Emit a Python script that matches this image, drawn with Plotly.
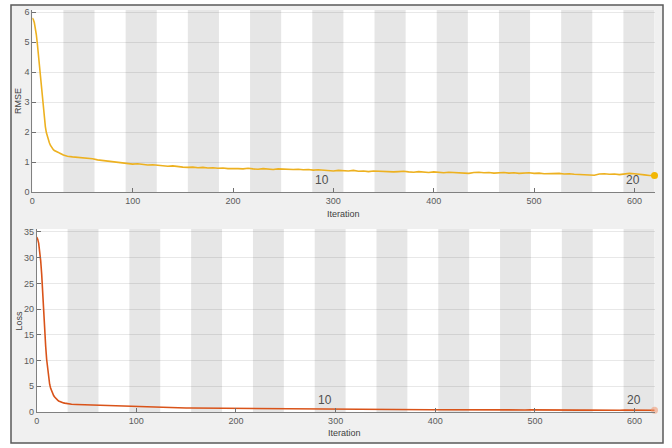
import plotly.graph_objects as go

# ---- data ----
iters = list(range(0, 36)) + list(range(40, 621, 5))

rmse = [5.80, 5.75, 5.65, 5.50, 5.25, 4.95, 4.60, 4.22, 3.85, 3.45,
        3.07, 2.72, 2.42, 2.18, 1.98, 1.84, 1.74, 1.64, 1.56, 1.50,
        1.45, 1.41, 1.38, 1.37, 1.34, 1.33, 1.32, 1.30, 1.29, 1.27,
        1.25, 1.23, 1.22, 1.21, 1.20, 1.19,
        1.17, 1.16, 1.14, 1.12, 1.11, 1.07, 1.05, 1.04, 1.01, 0.98,
        0.97, 0.95, 0.93, 0.94, 0.92, 0.90, 0.91, 0.89, 0.87, 0.86,
        0.87, 0.84, 0.83, 0.82, 0.83, 0.81, 0.82, 0.80, 0.81, 0.79,
        0.80, 0.78, 0.79, 0.78, 0.77, 0.79, 0.77, 0.76, 0.78, 0.76,
        0.75, 0.77, 0.76, 0.74, 0.75, 0.76, 0.74, 0.75, 0.73, 0.74,
        0.72, 0.71, 0.70, 0.72, 0.71, 0.70, 0.72, 0.69, 0.70, 0.68,
        0.70, 0.69, 0.68, 0.69, 0.67, 0.68, 0.69, 0.67, 0.66, 0.68,
        0.66, 0.65, 0.67, 0.66, 0.64, 0.66, 0.65, 0.63, 0.64, 0.62,
        0.65, 0.66, 0.64, 0.65, 0.63, 0.64, 0.65, 0.63, 0.64, 0.62,
        0.63, 0.64, 0.62, 0.63, 0.61, 0.62, 0.61, 0.62, 0.60, 0.61,
        0.59, 0.58, 0.59, 0.57, 0.56, 0.60, 0.61, 0.59, 0.60, 0.58,
        0.60, 0.62, 0.61, 0.60, 0.57, 0.55, 0.55]

loss = [34.0, 33.6, 32.8, 31.2, 29.4, 26.8, 22.6, 19.2, 15.8, 12.8,
        10.2, 8.1, 6.5, 5.4, 4.6, 4.0, 3.6, 3.2, 2.9, 2.65,
        2.45, 2.3, 2.15, 2.05, 1.95, 1.88, 1.82, 1.77, 1.72, 1.68,
        1.64, 1.60, 1.57, 1.54, 1.52, 1.50,
        1.45, 1.42, 1.38, 1.33, 1.28, 1.22, 1.18, 1.14, 1.10, 1.06,
        1.03, 1.00, 0.98, 0.96, 0.95, 0.92, 0.90, 0.88, 0.86, 0.84,
        0.83, 0.81, 0.79, 0.78, 0.77, 0.75, 0.76, 0.73, 0.72, 0.71,
        0.70, 0.69, 0.68, 0.68, 0.66, 0.67, 0.65, 0.64, 0.65, 0.63,
        0.62, 0.63, 0.61, 0.60, 0.61, 0.59, 0.58, 0.59, 0.57, 0.56,
        0.57, 0.55, 0.54, 0.55, 0.53, 0.52, 0.53, 0.51, 0.52, 0.50,
        0.51, 0.49, 0.48, 0.49, 0.47, 0.48, 0.47, 0.46, 0.45, 0.46,
        0.45, 0.44, 0.45, 0.44, 0.43, 0.44, 0.42, 0.43, 0.42, 0.41,
        0.43, 0.42, 0.41, 0.42, 0.40, 0.41, 0.42, 0.40, 0.41, 0.39,
        0.40, 0.41, 0.39, 0.40, 0.38, 0.39, 0.38, 0.39, 0.37, 0.38,
        0.37, 0.36, 0.37, 0.35, 0.34, 0.37, 0.38, 0.36, 0.37, 0.35,
        0.37, 0.38, 0.37, 0.36, 0.34, 0.33, 0.33]

iters_per_epoch = 31
num_epochs = 20
epoch_labels = ["10", "20"]
epoch_label_nums = [10, 20]

x_ticks = [0, 100, 200, 300, 400, 500, 600]
rmse_ticks = [0, 1, 2, 3, 4, 5, 6]
loss_ticks = [0, 5, 10, 15, 20, 25, 30, 35]

# ---- style ----
W, H = 672, 448
FONT = "Liberation Sans, Arial, sans-serif"
TICKC = "#5a5a5a"
RMSE_C = "#EDB120"
LOSS_C = "#D95319"
BAND_C = "#e6e6e6"

def px_x(p):
    return p / W

def px_y(p):
    return 1 - p / H

fig = go.Figure()

fig.add_trace(go.Scatter(x=iters, y=rmse, mode="lines", xaxis="x", yaxis="y",
                         line=dict(color=RMSE_C, width=1.6), showlegend=False))
fig.add_trace(go.Scatter(x=[iters[-1]], y=[rmse[-1]], mode="markers", xaxis="x", yaxis="y",
                         marker=dict(color="#F2B705", size=7), showlegend=False, cliponaxis=False))
fig.add_trace(go.Scatter(x=iters, y=loss, mode="lines", xaxis="x2", yaxis="y2",
                         line=dict(color=LOSS_C, width=1.6), showlegend=False))
fig.add_trace(go.Scatter(x=[iters[-1]], y=[loss[-1]], mode="markers", xaxis="x2", yaxis="y2",
                         marker=dict(color="rgba(240,150,110,0.55)", size=7), showlegend=False,
                         cliponaxis=False))

shapes = []
# grey panel with border
shapes.append(dict(type="rect", xref="paper", yref="paper",
                   x0=px_x(11), x1=px_x(663), y0=px_y(443), y1=px_y(5),
                   fillcolor="#f0f0f0", line=dict(color="#5a5a5a", width=1.5), layer="below"))
# white plot backgrounds
for (xa, ya) in [("x", "y"), ("x2", "y2")]:
    shapes.append(dict(type="rect", xref=xa + " domain", yref=ya + " domain",
                       x0=0, x1=1, y0=0, y1=1, fillcolor="white", line=dict(width=0), layer="below"))
# epoch bands
for k in range(2, num_epochs + 1, 2):
    for (xa, ya) in [("x", "y"), ("x2", "y2")]:
        shapes.append(dict(type="rect", xref=xa, yref=ya + " domain",
                           x0=(k - 1) * iters_per_epoch, x1=k * iters_per_epoch, y0=0, y1=1,
                           fillcolor=BAND_C, line=dict(width=0), layer="below"))

annotations = []
for lab, n in zip(epoch_labels, epoch_label_nums):
    for (xa, ya) in [("x", "y"), ("x2", "y2")]:
        annotations.append(dict(text=lab, x=(n - 1) * iters_per_epoch, y=0, xref=xa, yref=ya,
                                xanchor="left", yanchor="bottom", xshift=1, yshift=3,
                                showarrow=False, font=dict(family=FONT, size=12, color="#505050")))
# axis titles
title_font = dict(family=FONT, size=9, color="#404040")
annotations += [
    dict(text="RMSE", x=px_x(18), y=px_y(101), xref="paper", yref="paper", textangle=-90,
         xanchor="center", yanchor="middle", showarrow=False, font=title_font),
    dict(text="Loss", x=px_x(18.5), y=px_y(321), xref="paper", yref="paper", textangle=-90,
         xanchor="center", yanchor="middle", showarrow=False, font=title_font),
    dict(text="Iteration", x=px_x(343.5), y=px_y(213.5), xref="paper", yref="paper",
         xanchor="center", yanchor="middle", showarrow=False, font=title_font),
    dict(text="Iteration", x=px_x(345), y=px_y(433), xref="paper", yref="paper",
         xanchor="center", yanchor="middle", showarrow=False, font=title_font),
]

axis_common = dict(showline=True, linecolor="#808080", linewidth=1, zeroline=False,
                   ticks="inside", ticklen=4, tickcolor="#707070", tickwidth=1,
                   automargin=False,
                   tickfont=dict(family=FONT, size=9, color=TICKC))

fig.update_layout(
    width=W, height=H, margin=dict(l=0, r=0, t=0, b=0, pad=0),
    paper_bgcolor="white", plot_bgcolor="rgba(0,0,0,0)",
    shapes=shapes, annotations=annotations,
    xaxis=dict(domain=[px_x(32.3), px_x(655)], range=[0, 620.5], anchor="y",
               tickvals=x_ticks, showgrid=False, **axis_common),
    yaxis=dict(domain=[px_y(192), px_y(10)], range=[0, 6.067], anchor="x",
               tickvals=rmse_ticks, showgrid=True, gridcolor="rgba(0,0,0,0.09)", gridwidth=1,
               **axis_common),
    xaxis2=dict(domain=[px_x(36.7), px_x(655)], range=[0, 620.5], anchor="y2",
                tickvals=x_ticks, showgrid=False, **axis_common),
    yaxis2=dict(domain=[px_y(412), px_y(229)], range=[0, 35.58], anchor="x2",
                tickvals=loss_ticks, showgrid=True, gridcolor="rgba(0,0,0,0.09)", gridwidth=1,
                **axis_common),
)

fig.write_html("out.html", config={"displayModeBar": False},
               post_script="document.body.style.margin='0';document.body.style.overflow='hidden';")
